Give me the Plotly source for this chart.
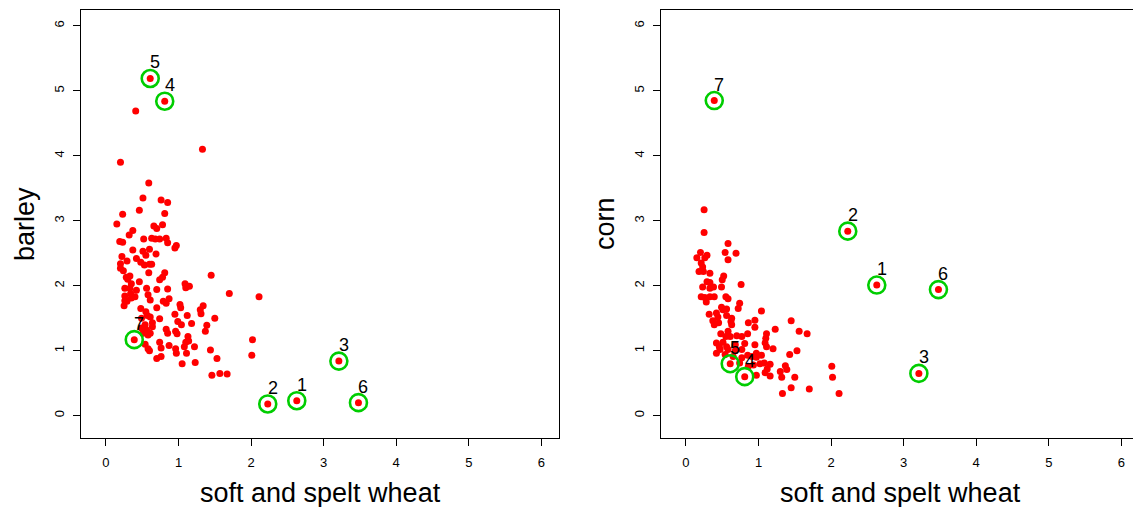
import plotly.graph_objects as go

# ---------------- data ----------------
# left panel: soft and spelt wheat vs barley
wheat_b = [1.33, 0.20, 0.59, 0.51, 0.76, 0.85, 0.46, 0.81, 0.23, 0.15, 0.66, 0.70, 0.78, 0.37, 0.32,
           0.19, 0.23, 0.52, 0.63, 0.68, 0.74, 0.83, 0.85, 0.97, 0.95, 0.37, 0.51, 0.60, 0.55, 0.69,
           0.22, 0.29, 0.20, 0.42, 0.48, 0.53, 0.60, 0.63, 0.20, 0.24, 0.59, 0.81, 0.78, 0.74, 0.28,
           0.33, 0.46, 1.45, 0.35, 0.26, 0.33, 0.42, 0.56, 0.70, 0.85, 1.09, 1.15, 1.10, 1.70, 2.11,
           0.34, 0.40, 0.35, 0.26, 0.29, 0.25, 0.58, 0.61, 0.87, 0.83, 0.79, 0.70, 0.48, 0.55, 0.57,
           1.02, 1.03, 1.34, 1.30, 1.31, 1.12, 0.95, 0.74, 0.61, 0.64, 0.64, 1.18, 1.50, 1.39, 1.37,
           0.99, 1.04, 0.54, 0.49, 0.56, 0.51, 0.61, 0.83, 0.85, 0.96, 0.98, 1.13, 1.10, 1.14, 0.54,
           0.58, 0.60, 0.74, 0.76, 0.87, 0.96, 0.97, 1.22, 1.11, 1.08, 1.44, 0.76, 0.70, 2.02, 2.01,
           1.23, 1.05, 1.53, 1.46, 1.57, 1.67, 0.41, 0.49, 0.58, 0.26, 0.30]
barley = [4.10, 3.90, 3.58, 3.35, 3.32, 3.28, 3.16, 3.11, 3.10, 2.95, 2.92, 2.88, 2.94, 2.85, 2.78,
          2.68, 2.67, 2.72, 2.73, 2.72, 2.72, 2.73, 2.66, 2.62, 2.58, 2.55, 2.53, 2.56, 2.47, 2.49,
          2.45, 2.38, 2.34, 2.42, 2.36, 2.32, 2.33, 2.33, 2.27, 2.23, 2.20, 2.20, 2.13, 2.09, 2.13,
          2.15, 2.06, 2.16, 2.03, 1.96, 1.96, 1.93, 1.96, 1.94, 1.95, 2.03, 1.99, 1.97, 1.88, 1.83,
          1.88, 1.83, 1.81, 1.77, 1.76, 1.69, 1.86, 1.78, 1.80, 1.73, 1.76, 1.66, 1.65, 1.60, 1.54,
          1.71, 1.66, 1.69, 1.63, 1.57, 1.54, 1.56, 1.49, 1.52, 1.43, 1.37, 1.42, 1.50, 1.39, 1.30,
          1.45, 1.40, 1.40, 1.35, 1.32, 1.27, 1.27, 1.33, 1.27, 1.30, 1.26, 1.22, 1.13, 1.15, 1.10,
          1.03, 1.00, 1.13, 1.04, 1.08, 1.03, 0.96, 1.06, 0.96, 1.06, 1.01, 0.91, 0.88, 1.17, 0.93,
          0.82, 0.80, 0.88, 0.62, 0.65, 0.64, 4.69, 1.50, 1.24, 1.84, 2.10]

# right panel: soft and spelt wheat vs corn
wheat_c = [0.25, 0.25, 0.58, 0.54, 0.69, 0.58, 0.20, 0.15, 0.26, 0.29, 0.21, 0.23, 0.18, 0.24, 0.33,
           0.52, 0.50, 0.76, 0.29, 0.33, 0.23, 0.33, 0.38, 0.49, 0.21, 0.26, 0.33, 0.39, 0.55, 0.58,
           0.74, 0.72, 1.04, 0.49, 0.51, 0.56, 0.32, 0.42, 0.56, 0.63, 0.37, 0.45, 0.39, 0.62, 0.63,
           0.95, 0.86, 0.95, 1.45, 1.23, 1.56, 1.67, 0.48, 0.58, 0.55, 0.61, 0.70, 0.77, 0.85, 1.11,
           1.10, 1.09, 1.11, 0.95, 0.42, 0.51, 0.46, 0.56, 0.68, 0.81, 0.58, 0.68, 0.77, 0.97, 1.20,
           1.43, 1.53, 0.91, 0.97, 1.04, 1.02, 1.08, 1.16, 1.12, 0.97, 1.09, 1.16, 1.30, 1.37, 1.39,
           1.32, 1.50, 1.33, 1.45, 1.70, 2.01, 2.02, 2.11, 0.54, 0.65, 0.77, 0.85, 0.74, 0.86, 0.93,
           0.42, 0.47, 0.28, 0.44]
corn = [3.17, 2.82, 2.65, 2.51, 2.50, 2.40, 2.51, 2.43, 2.43, 2.47, 2.35, 2.29, 2.22, 2.22, 2.19,
        2.15, 2.09, 2.02, 2.06, 2.05, 1.98, 1.96, 1.98, 1.98, 1.83, 1.82, 1.83, 1.83, 1.83, 1.80,
        1.73, 1.65, 1.61, 1.67, 1.63, 1.64, 1.56, 1.58, 1.54, 1.50, 1.46, 1.43, 1.40, 1.45, 1.40,
        1.47, 1.43, 1.36, 1.46, 1.33, 1.30, 1.26, 1.26, 1.30, 1.22, 1.22, 1.23, 1.22, 1.26, 1.26,
        1.19, 1.12, 1.06, 1.09, 1.12, 1.13, 1.06, 1.06, 1.09, 1.11, 1.02, 1.00, 1.02, 0.96, 1.03,
        0.94, 1.00, 0.91, 0.90, 0.93, 0.80, 0.81, 0.79, 0.72, 0.62, 0.66, 0.61, 0.68, 0.77, 0.71,
        0.59, 0.59, 0.34, 0.43, 0.41, 0.76, 0.59, 0.34, 0.94, 0.91, 0.89, 0.93, 0.81, 0.76, 0.78,
        0.96, 1.02, 1.75, 1.52]

# highlighted observations (same in both panels)
hl_labels = ["1", "2", "3", "4", "5", "6", "7"]
hl_wheat = [2.63, 2.23, 3.21, 0.81, 0.61, 3.48, 0.39]
hl_barley = [0.23, 0.18, 0.84, 4.84, 5.19, 0.20, 1.17]
hl_corn = [2.01, 2.84, 0.65, 0.60, 0.80, 1.94, 4.85]

ticks = [0, 1, 2, 3, 4, 5, 6]
x_title = "soft and spelt wheat"
y_titles = ["barley", "corn"]

# ---------------- figure ----------------
W, H = 1133, 507
RED = "#ff0000"
GREEN = "rgb(0,205,0)"
FONT = "Liberation Sans, Arial, sans-serif"

fig = go.Figure()

panels = [
    ("x", "y", wheat_b, barley, hl_barley),
    ("x2", "y2", wheat_c, corn, hl_corn),
]
for xa, ya, xs, ys, hly in panels:
    fig.add_trace(go.Scatter(x=xs + hl_wheat, y=ys + hly, xaxis=xa, yaxis=ya, mode="markers",
                             marker=dict(color=RED, size=7, line=dict(width=0)),
                             hoverinfo="skip", showlegend=False))
    fig.add_trace(go.Scatter(x=hl_wheat, y=hly, xaxis=xa, yaxis=ya, mode="markers",
                             marker=dict(symbol="circle-open", color=GREEN, size=17,
                                         line=dict(width=2.6, color=GREEN)),
                             hoverinfo="skip", showlegend=False))
    for lab, xv, yv in zip(hl_labels, hl_wheat, hly):
        fig.add_annotation(x=xv, y=yv, xref=xa, yref=ya, text=lab, showarrow=False,
                           xshift=5, yshift=16, font=dict(size=18, color="black", family=FONT))

# pixel geometry (page pixels -> figure fractions)
def fx(p):
    return p / W

def fy(p):
    return 1 - p / H

top, bot = 10, 438
xl0, xl1 = 81, 559
xr0, xr1 = 661, 1133
lo, hi = -0.344, 6.244
scale = (xl1 - xl0) / (hi - lo)
r_hi = lo + (xr1 - xr0) / scale

axis_common = dict(showgrid=False, zeroline=False, showline=True, linecolor="black", linewidth=1,
                   ticks="outside", ticklen=7, tickcolor="black", tickwidth=1,
                   tickvals=ticks, ticktext=[str(t) for t in ticks],
                   tickfont=dict(size=13, color="black", family=FONT), fixedrange=True)

fig.update_layout(
    width=W, height=H, autosize=False,
    margin=dict(l=0, r=0, t=0, b=0),
    paper_bgcolor="white", plot_bgcolor="white",
    font=dict(family=FONT),
    hovermode=False,
    xaxis=dict(domain=[fx(xl0), fx(xl1)], range=[lo, hi], mirror=True, anchor="y",
               ticklabelstandoff=5, **axis_common),
    yaxis=dict(domain=[fy(bot), fy(top)], range=[lo, hi], mirror=True, anchor="x", tickangle=-90,
               ticklabelstandoff=4, **axis_common),
    xaxis2=dict(domain=[fx(xr0), 1.0], range=[lo, r_hi], mirror=True, anchor="y2",
                ticklabelstandoff=5, **axis_common),
    yaxis2=dict(domain=[fy(bot), fy(top)], range=[lo, hi], mirror=False, anchor="x2", tickangle=-90,
                ticklabelstandoff=4, **axis_common),
)

# axis titles
for x0, x1, yt in [(xl0, xl1, y_titles[0]), (xr0, xr0 + (xl1 - xl0), y_titles[1])]:
    fig.add_annotation(x=fx((x0 + x1) / 2), y=fy(493), xref="paper", yref="paper", text=x_title,
                       showarrow=False, font=dict(size=27, color="black", family=FONT),
                       xanchor="center", yanchor="middle")
    fig.add_annotation(x=fx(x0 - 56), y=fy((top + bot) / 2), xref="paper", yref="paper", text=yt,
                       textangle=-90, showarrow=False, font=dict(size=27, color="black", family=FONT),
                       xanchor="center", yanchor="middle")

# remove the default page margin so the figure fills the window exactly
fig.write_html("out.html", config={"displayModeBar": False, "staticPlot": True},
               post_script="document.body.style.margin='0';document.body.style.overflow='hidden';")
